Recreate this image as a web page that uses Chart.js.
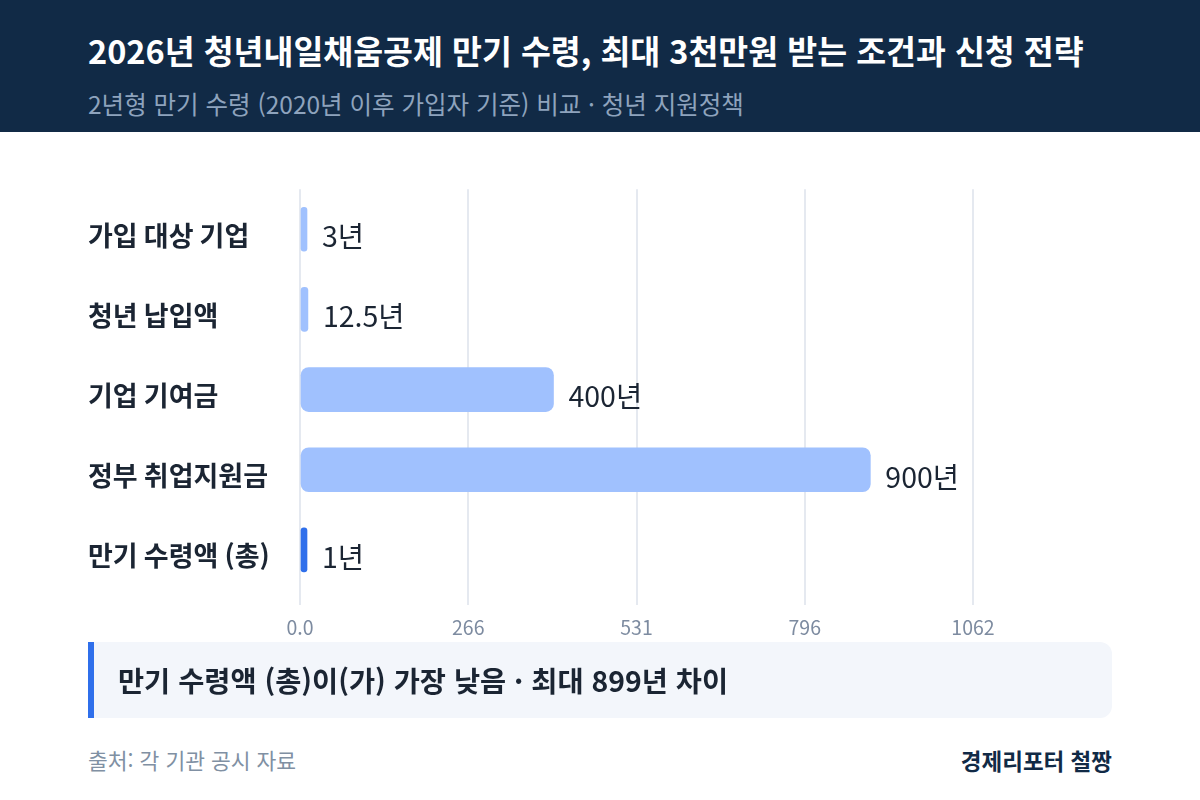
<!DOCTYPE html>
<html lang="ko">
<head>
<meta charset="utf-8">
<title>청년내일채움공제 만기 수령</title>
<script src="https://cdn.jsdelivr.net/npm/chart.js@4.4.1/dist/chart.umd.min.js"></script>
<style>
  html, body { margin: 0; padding: 0; }
  body {
    width: 1200px; height: 800px; position: relative; overflow: hidden;
    background: #ffffff;
    font-family: "Noto Sans CJK KR", "Noto Sans", sans-serif;
  }
  .header {
    position: absolute; left: 0; top: 0; width: 1200px; height: 132px;
    background: #112a46;
  }
  .title {
    position: absolute; left: 88px; top: 26px;
    font-size: 32.5px; font-weight: bold; color: #ffffff; white-space: nowrap;
  }
  .subtitle {
    position: absolute; left: 88px; top: 86px;
    font-size: 24.5px; color: #8ea3bd; white-space: nowrap;
  }
  .chart-box {
    position: absolute; left: 88px; top: 170px; width: 1024px; height: 475px;
  }
  .note {
    position: absolute; left: 88px; top: 642px; width: 1024px; height: 76px;
    background: #f3f6fb; border-radius: 0 12px 12px 0;
  }
  .note .bar {
    position: absolute; left: 0; top: 0; width: 6px; height: 76px; background: #2f6feb;
  }
  .note .text {
    position: absolute; left: 30px; top: 0; line-height: 76px;
    font-size: 28.4px; font-weight: bold; color: #1b2533; white-space: nowrap;
  }
  .source {
    position: absolute; left: 88px; top: 744px;
    font-size: 21.5px; color: #8090a3;
  }
  .brand {
    position: absolute; right: 88px; top: 744px;
    font-size: 22.5px; font-weight: bold; color: #112a46;
  }
</style>
</head>
<body>
<div class="header">
  <div class="title">2026년 청년내일채움공제 만기 수령, 최대 3천만원 받는 조건과 신청 전략</div>
  <div class="subtitle">2년형 만기 수령 (2020년 이후 가입자 기준) 비교 · 청년 지원정책</div>
</div>

<div class="chart-box"><canvas id="chart"></canvas></div>

<div class="note">
  <div class="bar"></div>
  <div class="text">만기 수령액 (총)이(가) 가장 낮음 · 최대 899년 차이</div>
</div>
<div class="source">출처: 각 기관 공시 자료</div>
<div class="brand">경제리포터 철짱</div>

<script>
// 데이터
const categories = ["가입 대상 기업", "청년 납입액", "기업 기여금", "정부 취업지원금", "만기 수령액 (총)"];
const values = [3, 12.5, 400, 900, 1];
const barColors = ["#a0c1fe", "#a0c1fe", "#a0c1fe", "#a0c1fe", "#2f6feb"];
const xTickValues = [0, 265.5, 531, 796.5, 1062];
const xTickLabels = ["0.0", "266", "531", "796", "1062"];
const unit = "년";

// 막대 끝에 값 표시
const valueLabels = {
    id: "valueLabels",
    afterDatasetsDraw(chart) {
        const ctx = chart.ctx;
        const meta = chart.getDatasetMeta(0);
        ctx.save();
        ctx.font = "28.5px 'Noto Sans CJK KR'";
        ctx.fillStyle = "#1b2533";
        ctx.textAlign = "left";
        ctx.textBaseline = "middle";
        meta.data.forEach(function (bar, i) {
            ctx.fillText(values[i] + unit, bar.x + 15, bar.y + 7);
        });
        ctx.restore();
    }
};

const chart = new Chart("chart", {
    type: "bar",
    data: {
        labels: categories,
        datasets: [{
            data: values,
            backgroundColor: barColors,
            borderRadius: 8,
            borderSkipped: false,
            barThickness: 44,
            minBarLength: 7
        }]
    },
    options: {
        indexAxis: "y",
        responsive: true,
        maintainAspectRatio: false,
        animation: false,
        layout: { padding: { top: 16, right: 139, left: 0, bottom: 0 } },
        plugins: {
            legend: { display: false },
            tooltip: { enabled: false }
        },
        scales: {
            x: {
                min: 0,
                max: 1062,
                afterBuildTicks: function (scale) {
                    scale.ticks = xTickValues.map(v => ({ value: v }));
                },
                afterFit: function (scale) { scale.height = 55; },
                grid: { color: "#e5e9f0", lineWidth: 2, tickLength: 15, drawTicks: true },
                border: { display: false },
                ticks: {
                    padding: 11,
                    color: "#7d8ba0",
                    font: { size: 19.5, family: "'Noto Sans CJK KR'" },
                    callback: function (value, index) { return xTickLabels[index]; }
                }
            },
            y: {
                afterFit: function (scale) { scale.width = 212; },
                grid: { display: false },
                border: { display: false },
                ticks: {
                    crossAlign: "far",
                    labelOffset: 6,
                    color: "#1b2533",
                    font: { size: 27, weight: "bold", family: "'Noto Sans CJK KR'" }
                }
            }
        }
    },
    plugins: [valueLabels]
});
</script>
</body>
</html>
